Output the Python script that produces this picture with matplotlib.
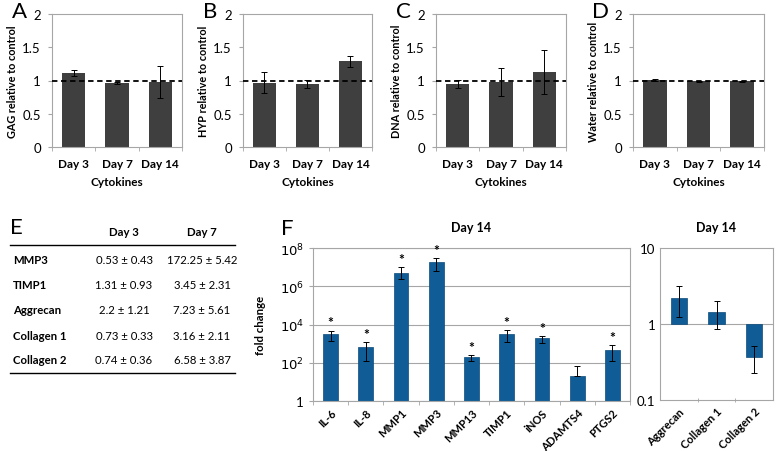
import numpy as np
import matplotlib.pyplot as plt
from matplotlib.ticker import FixedLocator, NullFormatter

plt.rcParams['font.family'] = ['Lato', 'DejaVu Sans']

days = ['Day 3', 'Day 7', 'Day 14']

# panels A-D: mean, lower error end, upper error end
gag = [1.115, 0.96, 0.975]
gag_lo = [1.075, 0.95, 0.735]
gag_hi = [1.155, 0.97, 1.215]
hyp = [0.965, 0.945, 1.29]
hyp_lo = [0.815, 0.885, 1.205]
hyp_hi = [1.125, 1.01, 1.365]
dna = [0.94, 0.975, 1.13]
dna_lo = [0.885, 0.76, 0.79]
dna_hi = [1.01, 1.185, 1.46]
water = [1.01, 0.985, 0.985]
water_lo = [1.0, 0.98, 0.98]
water_hi = [1.02, 0.99, 0.99]

# panel E table
genes_e = ['MMP3', 'TIMP1', 'Aggrecan', 'Collagen 1', 'Collagen 2']
day3_e = ['0.53 ± 0.43', '1.31 ± 0.93', '2.2 ± 1.21', '0.73 ± 0.33', '0.74 ± 0.36']
day7_e = ['172.25 ± 5.42', '3.45 ± 2.31', '7.23 ± 5.61', '3.16 ± 2.11', '6.58 ± 3.87']

# panel F, Day 14 fold change
genes_f = ['IL-6', 'IL-8', 'MMP1', 'MMP3', 'MMP13', 'TIMP1', 'iNOS', 'ADAMTS4', 'PTGS2']
fold_f = [3200, 700, 5e6, 1.8e7, 195, 3100, 1900, 20, 480]
fold_f_lo = [1400, 130, 2.4e6, 6.6e6, 130, 1200, 1100, 20, 130]
fold_f_hi = [4800, 1180, 1e7, 3e7, 255, 5200, 2600, 68, 850]
signif_f = [True, True, True, True, True, True, True, False, True]

genes_m = ['Aggrecan', 'Collagen 1', 'Collagen 2']
fold_m = [2.2, 1.43, 0.37]
fold_m_lo = [1.22, 0.86, 0.23]
fold_m_hi = [3.2, 2.0, 0.51]

gray = '#3f3f3f'
blue = '#0f5c96'
spine = '#a6a6a6'

fig = plt.figure(figsize=(7.78, 4.52), dpi=100)


def small_panel(rect, letter, ylabel, vals, lo, hi):
    ax = fig.add_axes(rect)
    x = np.arange(len(days))
    vals = np.array(vals)
    yerr = [vals - np.array(lo), np.array(hi) - vals]
    ax.bar(x, vals, width=0.54, color=gray, zorder=2)
    ax.errorbar(x, vals, yerr=yerr, fmt='none', ecolor='black', elinewidth=0.7,
                capsize=2.5, capthick=0.7, zorder=3)
    ax.plot([-0.5, 2.5], [1, 1], color='black', ls='--', lw=1.3, dashes=(3, 2), zorder=4)
    ax.set_xlim(-0.5, 2.5)
    ax.set_ylim(0, 2)
    ax.set_yticks([0, 0.5, 1, 1.5, 2])
    ax.set_yticklabels(['0', '0.5', '1', '1.5', '2'], fontsize=9.5)
    ax.set_xticks(x)
    ax.set_xticklabels(days, fontsize=8.5, fontweight='bold')
    ax.xaxis.set_minor_locator(FixedLocator([-0.5, 0.5, 1.5, 2.5]))
    ax.tick_params(axis='x', which='major', length=0, pad=8)
    ax.tick_params(axis='x', which='minor', length=3, color=spine, direction='out')
    ax.tick_params(axis='y', length=3, color=spine, pad=5)
    ax.set_xlabel('Cytokines', fontsize=8.5, fontweight='bold', labelpad=5)
    ax.set_ylabel(ylabel, fontsize=7.8, fontweight='bold', labelpad=3)
    for s in ax.spines.values():
        s.set_color(spine)
        s.set_linewidth(0.8)
    ax.text(-0.31, 1.02, letter, transform=ax.transAxes, fontsize=16, va='center', ha='left')
    return ax


small_panel([52 / 778, 1 - 148 / 452, 130 / 778, 133 / 452], 'A', 'GAG relative to control', gag, gag_lo, gag_hi)
small_panel([243 / 778, 1 - 148 / 452, 129 / 778, 133 / 452], 'B', 'HYP relative to control', hyp, hyp_lo, hyp_hi)
small_panel([436 / 778, 1 - 148 / 452, 130 / 778, 133 / 452], 'C', 'DNA relative to control', dna, dna_lo, dna_hi)
small_panel([633 / 778, 1 - 148 / 452, 131 / 778, 133 / 452], 'D', 'Water relative to control', water, water_lo, water_hi)

# panel E table
fig.text(10 / 778, 1 - 228 / 452, 'E', fontsize=16, va='center')
fig.text(124 / 778, 1 - 233 / 452, 'Day 3', fontsize=8.2, fontweight='bold', ha='center', va='center')
fig.text(202 / 778, 1 - 233 / 452, 'Day 7', fontsize=8.2, fontweight='bold', ha='center', va='center')
fig.add_artist(plt.Line2D([10 / 778, 235 / 778], [1 - 246 / 452, 1 - 246 / 452], color='black', lw=1))
fig.add_artist(plt.Line2D([10 / 778, 235 / 778], [1 - 374 / 452, 1 - 374 / 452], color='black', lw=1))
for i, g in enumerate(genes_e):
    yy = 1 - (261 + i * 25) / 452
    fig.text(13 / 778, yy, g, fontsize=8.2, fontweight='bold', va='center')
    fig.text(124 / 778, yy, day3_e[i], fontsize=8.2, ha='center', va='center')
    fig.text(202 / 778, yy, day7_e[i], fontsize=8.2, ha='center', va='center')

# panel F left
axf = fig.add_axes([313 / 778, 1 - 402 / 452, 317 / 778, 153 / 452])
xf = np.arange(len(genes_f))
ff = np.array(fold_f)
axf.bar(xf, ff - 1, bottom=1, width=0.42, color=blue, edgecolor='#0b4a7a', linewidth=0.5, zorder=2)
axf.errorbar(xf, ff, yerr=[ff - np.array(fold_f_lo), np.array(fold_f_hi) - ff], fmt='none',
             ecolor='black', elinewidth=0.7, capsize=2.5, capthick=0.7, zorder=3)
for i, s in enumerate(signif_f):
    if s:
        axf.text(xf[i], fold_f_hi[i] * 1.3, '*', ha='center', va='bottom', fontsize=10, fontweight='bold')
axf.set_yscale('log')
axf.set_ylim(1, 1e8)
axf.set_xlim(-0.5, len(genes_f) - 0.5)
axf.set_yticks([1, 1e2, 1e4, 1e6, 1e8])
axf.set_yticklabels(['1', '$10^2$', '$10^4$', '$10^6$', '$10^8$'], fontsize=9.5)
axf.yaxis.set_minor_locator(FixedLocator([]))
axf.grid(axis='y', which='major', color=spine, lw=0.8, zorder=0)
axf.set_xticks(xf)
axf.set_xticklabels(genes_f, fontsize=8, fontweight='bold', rotation=45, ha='right', rotation_mode='anchor')
axf.xaxis.set_minor_locator(FixedLocator(np.arange(-0.5, len(genes_f), 1.0)))
axf.tick_params(axis='x', which='major', length=0, pad=4)
axf.tick_params(axis='x', which='minor', length=3, color=spine)
axf.tick_params(axis='y', length=3, color=spine)
axf.set_ylabel('fold change', fontsize=8.2, fontweight='bold', labelpad=10)
axf.set_title('Day 14', fontsize=9, fontweight='bold', pad=12)
for s in axf.spines.values():
    s.set_color(spine)
    s.set_linewidth(0.8)
axf.text(-0.1, 1.13, 'F', transform=axf.transAxes, fontsize=16, va='center')

# panel F right
axm = fig.add_axes([660 / 778, 1 - 401 / 452, 113 / 778, 152 / 452])
xm = np.arange(len(genes_m))
fm = np.array(fold_m)
axm.bar(xm, fm - 1, bottom=1, width=0.43, color=blue, edgecolor='#0b4a7a', linewidth=0.5, zorder=2)
axm.errorbar(xm, fm, yerr=[fm - np.array(fold_m_lo), np.array(fold_m_hi) - fm], fmt='none',
             ecolor='black', elinewidth=0.7, capsize=2.5, capthick=0.7, zorder=3)
axm.set_yscale('log')
axm.set_ylim(0.1, 10)
axm.set_xlim(-0.5, len(genes_m) - 0.5)
axm.set_yticks([0.1, 1, 10])
axm.set_yticklabels(['0.1', '1', '10'], fontsize=9.5)
axm.yaxis.set_minor_locator(FixedLocator([]))
axm.yaxis.set_minor_formatter(NullFormatter())
axm.axhline(1, color=spine, lw=0.8, zorder=1)
axm.set_xticks(xm)
axm.set_xticklabels(genes_m, fontsize=8, fontweight='bold', rotation=45, ha='right', rotation_mode='anchor')
axm.xaxis.set_minor_locator(FixedLocator([0.5, 1.5]))
axm.tick_params(axis='x', which='major', length=0, pad=4)
axm.tick_params(axis='x', which='minor', length=3, color=spine, direction='inout')
axm.tick_params(axis='y', length=0)
axm.set_title('Day 14', fontsize=9, fontweight='bold', pad=12)
for s in axm.spines.values():
    s.set_color(spine)
    s.set_linewidth(0.8)

fig.savefig('out.png', dpi=100)
